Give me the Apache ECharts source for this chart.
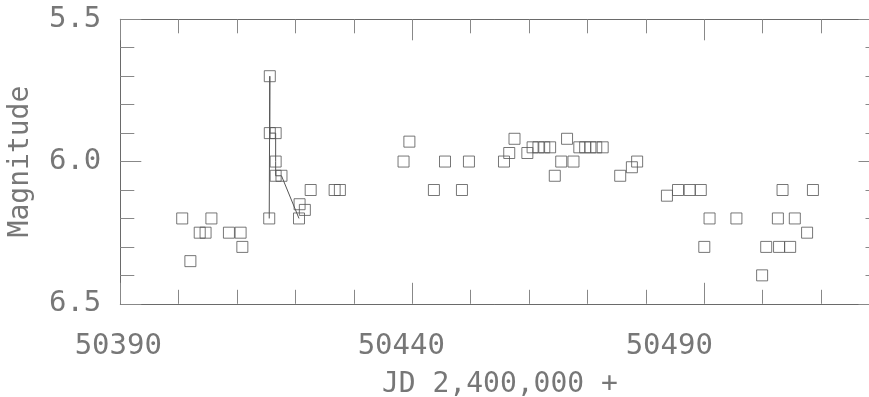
<!DOCTYPE html>
<html>
<head>
<meta charset="utf-8">
<script src="https://cdn.jsdelivr.net/npm/echarts@6/dist/echarts.min.js"></script>
<style>
html,body{margin:0;padding:0;background:#fff;}
#chart{width:869px;height:397px;}
</style>
</head>
<body>
<div id="chart"></div>
<script>
// Julian dates (JD - 2,400,000) and visual magnitudes of all observations
var jd = [50400.6, 50402.0, 50403.6, 50404.6, 50405.6, 50408.6, 50410.6, 50410.9,
  50415.5, 50415.6, 50415.6, 50416.6, 50416.6, 50416.6, 50417.6, 50420.6, 50420.7, 50421.6,
  50422.6, 50426.7, 50427.6, 50438.5, 50439.5, 50443.7, 50445.6, 50448.5, 50449.7,
  50455.7, 50456.6, 50457.5, 50459.7, 50460.6, 50461.6, 50462.6, 50463.6, 50464.4,
  50465.5, 50466.5, 50467.6, 50468.6, 50469.6, 50470.5, 50471.5, 50472.6, 50475.6,
  50477.6, 50478.5, 50483.6, 50485.5, 50487.5, 50489.4, 50490.0, 50490.9, 50495.5,
  50499.9, 50500.6, 50502.6, 50502.8, 50503.4, 50504.7, 50505.5, 50507.6, 50508.6];
var mag = [6.2, 6.35, 6.25, 6.25, 6.2, 6.25, 6.25, 6.3,
  6.2, 5.7, 5.9, 5.9, 6.0, 6.05, 6.05, 6.2, 6.15, 6.17,
  6.1, 6.1, 6.1, 6.0, 5.93, 6.1, 6.0, 6.1, 6.0,
  6.0, 5.97, 5.92, 5.97, 5.95, 5.95, 5.95, 5.95, 6.05,
  6.0, 5.92, 6.0, 5.95, 5.95, 5.95, 5.95, 5.95, 6.05,
  6.02, 6.0, 6.12, 6.1, 6.1, 6.1, 6.3, 6.2, 6.2,
  6.4, 6.3, 6.2, 6.3, 6.1, 6.3, 6.2, 6.25, 6.1];
// observations joined by a line
var lineJd = [50415.5, 50415.6, 50415.6, 50416.6, 50416.6, 50416.6, 50417.6, 50420.6];
var lineMag = [6.2, 5.7, 5.9, 5.9, 6.0, 6.05, 6.05, 6.2];
// axis labels
var xTickLabels = ['50390', '50440', '50490'];
var yTickLabels = ['5.5', '6.0', '6.5'];
var xTitle = 'JD 2,400,000 +';
var yTitle = 'Magnitude';

var FONT = 'DejaVu Sans Mono';
var TXT = '#777';
var LINE = '#6a6a6a';

function pairs(a, b) { return a.map(function (v, i) { return [v, b[i]]; }); }

var xShift = {'50390': 'a', '50440': 'b', '50490': 'c'};

var chart = echarts.init(document.getElementById('chart'));
var tickCommon = {
  axisLine: {show: true, lineStyle: {color: LINE, width: 1}},
  axisTick: {show: true, inside: true, length: 21, lineStyle: {color: '#888', width: 1}},
  minorTick: {show: true, splitNumber: 5, length: 14, lineStyle: {color: '#888', width: 1}},
  splitLine: {show: false},
  minorSplitLine: {show: false}
};
chart.setOption({
  animation: false,
  backgroundColor: '#fff',
  grid: {left: 120.3, top: 19.3, width: 759.2, height: 284.5, containLabel: false, outerBoundsMode: 'none'},
  xAxis: [
    Object.assign({
      type: 'value', min: 50390, max: 50520, interval: 50, position: 'bottom',
      name: xTitle, nameLocation: 'middle', nameGap: 67,
      nameTextStyle: {fontFamily: FONT, fontSize: 28, color: TXT},
      axisLabel: {
        show: true, margin: 28, showMaxLabel: false,
        formatter: function (v) {
          var i = Math.round((v - 50390) / 50);
          var s = xTickLabels[i];
          if (s === undefined) return '';
          return '{' + xShift[s] + '|' + s + '}';
        },
        rich: {
          a: {fontFamily: FONT, fontSize: 29, color: TXT, padding: [0, 4, 0, 0]},
          b: {fontFamily: FONT, fontSize: 29, color: TXT, padding: [0, 22, 0, 0]},
          c: {fontFamily: FONT, fontSize: 29, color: TXT, padding: [0, 70, 0, 0]}
        }
      }
    }, tickCommon),
    Object.assign({
      type: 'value', min: 50390, max: 50520, interval: 50, position: 'top',
      axisLabel: {show: false}
    }, tickCommon)
  ],
  yAxis: [
    Object.assign({
      type: 'value', min: 5.5, max: 6.5, interval: 0.5, inverse: true, position: 'left',
      name: yTitle, nameLocation: 'middle', nameGap: 86, nameRotate: 90,
      nameTextStyle: {fontFamily: FONT, fontSize: 28, color: TXT},
      axisLabel: {
        show: true, margin: 19, fontFamily: FONT, fontSize: 29, color: TXT,
        formatter: function (v) {
          var i = Math.round((v - 5.5) / 0.5);
          return yTickLabels[i] || '';
        }
      }
    }, tickCommon),
    Object.assign({
      type: 'value', min: 5.5, max: 6.5, interval: 0.5, inverse: true, position: 'right',
      axisLabel: {show: false}
    }, tickCommon)
  ],
  series: [
    {
      type: 'line', data: pairs(lineJd, lineMag), showSymbol: false, symbol: 'none',
      lineStyle: {color: '#555', width: 1}, silent: true, z: 1
    },
    {
      type: 'scatter', data: pairs(jd, mag), symbol: 'rect', symbolSize: 11,
      itemStyle: {color: 'none', borderColor: '#555', borderWidth: 1},
      silent: true, z: 2
    }
  ]
});
</script>
</body>
</html>
